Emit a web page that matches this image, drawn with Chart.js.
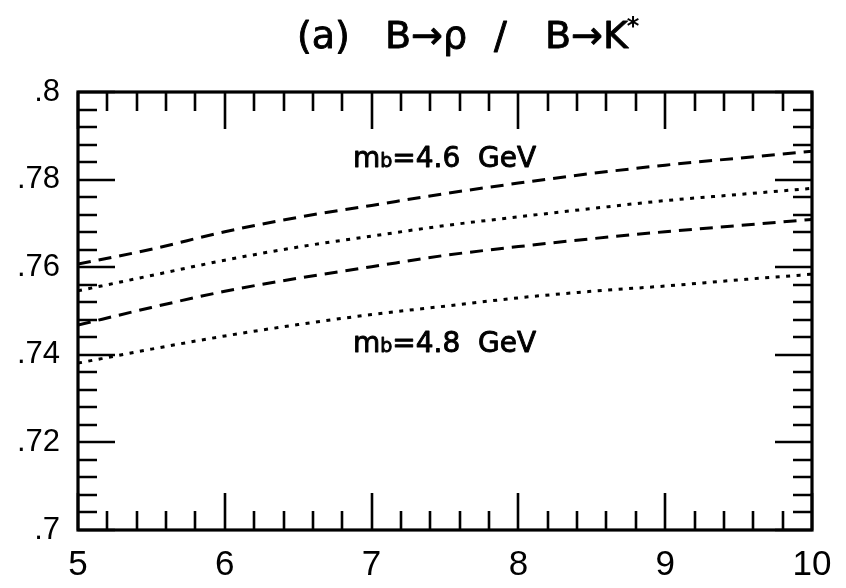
<!DOCTYPE html>
<html>
<head>
<meta charset="utf-8">
<script src="https://cdn.jsdelivr.net/npm/chart.js@4.4.0/dist/chart.umd.min.js"></script>
<style>
  html, body { margin: 0; padding: 0; background: #fff; }
  #wrap { width: 846px; height: 588px; }
</style>
</head>
<body>
<div id="wrap"><canvas id="ratio"></canvas></div>
<script>
// x grid shared by all four curves
const xVals = [5.0, 5.5, 6.0, 6.5, 7.0, 7.5, 8.0, 8.5, 9.0, 9.5, 10.0];

// m_b = 4.6 GeV pair
const dashedHigh = [0.7607, 0.7641, 0.7681, 0.7714, 0.7741, 0.7768, 0.7792, 0.7814, 0.7833, 0.7849, 0.7865];
const dottedHigh = [0.7546, 0.7581, 0.7616, 0.7646, 0.7671, 0.7695, 0.7715, 0.7734, 0.7752, 0.7766, 0.7780];
// m_b = 4.8 GeV pair
const dashedLow = [0.7468, 0.7508, 0.7545, 0.7575, 0.7601, 0.7627, 0.7647, 0.7665, 0.7681, 0.7695, 0.7709];
const dottedLow = [0.7381, 0.7413, 0.7443, 0.7469, 0.7492, 0.7511, 0.7530, 0.7545, 0.7557, 0.7571, 0.7584];

const xTicks = [5, 6, 7, 8, 9, 10];
const xTickLabels = ['5', '6', '7', '8', '9', '10'];
const yTicks = [0.70, 0.72, 0.74, 0.76, 0.78, 0.80];
const yTickLabels = ['.7', '.72', '.74', '.76', '.78', '.8'];

const massLabels = ['4.6', '4.8'];
// title pieces: text, left x
const titleParts = [['(a)', 297], ['B\u2192\u03C1', 385], ['/', 494], ['B\u2192K', 545]];

const toPoints = (ys) => ys.map((v, i) => ({ x: xVals[i], y: v }));

function line(data, dash) {
  return {
    data: toPoints(data),
    borderColor: '#000',
    borderWidth: 3,
    borderDash: dash,
    borderCapStyle: 'butt',
    pointRadius: 0,
    fill: false,
    cubicInterpolationMode: 'monotone'
  };
}

// text drawn with a thin outline so it reads a bit heavier
function heavyText(ctx, t, x, y) {
  ctx.fillText(t, x, y);
  ctx.strokeText(t, x, y);
}

// closed frame with inward ticks on all four sides
const frameTicks = {
  id: 'frameTicks',
  afterDatasetsDraw(chart) {
    const { ctx, chartArea: a, scales: { x, y } } = chart;
    ctx.save();
    ctx.strokeStyle = '#000';
    ctx.lineWidth = 2.6;
    ctx.beginPath();
    for (let i = 0; i <= 25; i++) {
      const px = Math.round(x.getPixelForValue(5 + i * 0.2));
      const len = i % 5 === 0 ? 37 : 19;
      ctx.moveTo(px, a.bottom); ctx.lineTo(px, a.bottom - len);
      ctx.moveTo(px, a.top); ctx.lineTo(px, a.top + len);
    }
    for (let i = 0; i <= 25; i++) {
      const py = Math.round(y.getPixelForValue(0.7 + i * 0.004));
      const len = i % 5 === 0 ? 37 : 19;
      ctx.moveTo(a.left, py); ctx.lineTo(a.left + len, py);
      ctx.moveTo(a.right, py); ctx.lineTo(a.right - len, py);
    }
    ctx.stroke();
    ctx.lineWidth = 3.2;
    ctx.strokeRect(a.left, a.top, a.right - a.left, a.bottom - a.top);
    ctx.restore();
  }
};

// title and the two m_b captions
const captions = {
  id: 'captions',
  afterDraw(chart) {
    const { ctx, scales: { x, y } } = chart;
    ctx.save();
    ctx.fillStyle = '#000';
    ctx.strokeStyle = '#000';
    ctx.lineWidth = 0.9;
    ctx.lineJoin = 'round';
    ctx.textBaseline = 'alphabetic';
    ctx.textAlign = 'left';

    ctx.font = '38px "DejaVu Sans"';
    let tx = 0;
    titleParts.forEach(([t, left]) => {
      heavyText(ctx, t, left, 48);
      tx = left + ctx.measureText(t).width;
    });
    ctx.font = 'bold 24px "DejaVu Sans"';
    ctx.fillText('*', tx - 1, 34);

    const spots = [[6.873, 0.7829], [6.873, 0.7406]];
    massLabels.forEach((m, i) => {
      let px = x.getPixelForValue(spots[i][0]);
      const py = y.getPixelForValue(spots[i][1]);
      ctx.font = '28px "DejaVu Sans"';
      heavyText(ctx, 'm', px, py);
      px += ctx.measureText('m').width;
      ctx.font = '19px "DejaVu Sans"';
      heavyText(ctx, 'b', px, py);
      px += ctx.measureText('b').width;
      ctx.font = '28px "DejaVu Sans"';
      heavyText(ctx, '=' + m + '  GeV', px, py);
    });
    ctx.restore();
  }
};

new Chart(document.getElementById('ratio'), {
  type: 'line',
  data: {
    datasets: [
      line(dashedHigh, [13, 8]),
      line(dottedHigh, [4, 6.5]),
      line(dashedLow, [13, 8]),
      line(dottedLow, [4, 6.5])
    ]
  },
  options: {
    responsive: true,
    maintainAspectRatio: false,
    animation: false,
    layout: { padding: { left: 0, right: 34, top: 92, bottom: 0 } },
    plugins: {
      legend: { display: false },
      tooltip: { enabled: false },
      title: { display: false }
    },
    scales: {
      x: {
        type: 'linear',
        min: 5,
        max: 10,
        grid: { display: false, drawTicks: false },
        border: { display: false },
        afterBuildTicks: (s) => { s.ticks = xTicks.map(v => ({ value: v })); },
        afterFit: (s) => { s.height = 58; },
        ticks: {
          autoSkip: false,
          maxRotation: 0,
          padding: 14,
          color: '#000',
          font: { family: '"Liberation Sans", Arial', size: 35 },
          callback: (v) => xTickLabels[xTicks.indexOf(v)]
        }
      },
      y: {
        type: 'linear',
        min: 0.7,
        max: 0.8,
        grid: { display: false, drawTicks: false },
        border: { display: false },
        afterBuildTicks: (s) => { s.ticks = yTicks.map(v => ({ value: v })); },
        afterFit: (s) => { s.width = 78; },
        ticks: {
          autoSkip: false,
          padding: 18,
          color: '#000',
          font: { family: '"Liberation Sans", Arial', size: 31 },
          callback: (v) => yTickLabels[yTicks.indexOf(v)]
        }
      }
    }
  },
  plugins: [frameTicks, captions]
});
</script>
</body>
</html>
